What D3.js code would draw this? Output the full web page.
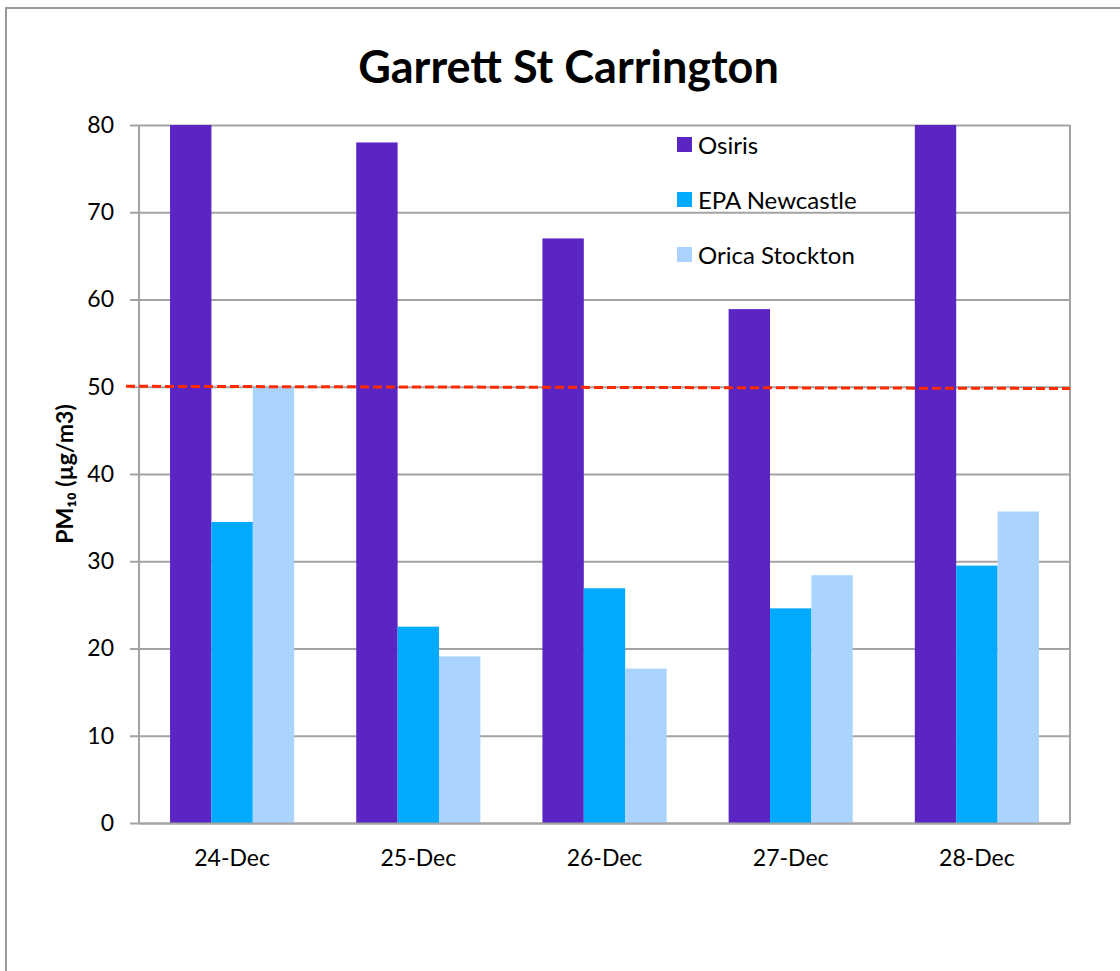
<!DOCTYPE html>
<html>
<head>
<meta charset="utf-8">
<script src="https://cdn.jsdelivr.net/npm/d3@7"></script>
<style>
  body { margin: 0; background: #fff; }
  svg text { font-family: Lato, "Open Sans", sans-serif; }
</style>
</head>
<body>
<div class="chart"></div>
<script>
const days = ["24-Dec", "25-Dec", "26-Dec", "27-Dec", "28-Dec"];
const seriesNames = ["Osiris", "EPA Newcastle", "Orica Stockton"];
const osiris = [86, 78.0, 67.0, 58.9, 86];   // 24 and 28 Dec run off the top of the chart
const epaNewcastle = [34.5, 22.5, 26.9, 24.6, 29.5];
const oricaStockton = [49.9, 19.1, 17.7, 28.4, 35.7];
const yTicks = [0, 10, 20, 30, 40, 50, 60, 70, 80];
const limitEnds = [50.05, 49.8]; // the dashed 50 µg/m3 line, slightly tilted as drawn

const colors = ["#5a25c3", "#00aaff", "#aad4fd"];

const width = 1120, height = 971;
const margin = { top: 125, right: 50, bottom: 148, left: 139 };

const svg = d3.select(".chart")
  .append("svg")
  .attr("width", width)
  .attr("height", height);

// outer chart frame (runs off the right/bottom edges)
svg.append("rect")
  .attr("x", 6).attr("y", 8)
  .attr("width", 1140).attr("height", 1000)
  .attr("fill", "none")
  .attr("stroke", "#9a9a9a")
  .attr("stroke-width", 2);

const x0 = d3.scaleBand()
  .domain(days)
  .range([margin.left, width - margin.right])
  .paddingInner(0.3333)
  .paddingOuter(0.1667);

const x1 = d3.scaleBand()
  .domain(seriesNames)
  .range([0, x0.bandwidth()]);

const y = d3.scaleLinear()
  .domain([0, 80])
  .range([height - margin.bottom, margin.top]);

// gridlines
svg.append("g")
  .attr("transform", `translate(${margin.left},0)`)
  .call(d3.axisLeft(y).tickValues(yTicks).tickSize(-(width - margin.left - margin.right)).tickFormat(""))
  .call(g => g.select(".domain").remove())
  .call(g => g.selectAll("line").attr("stroke", "#a3a3a3").attr("stroke-width", 2));

// tick marks + labels
svg.append("g")
  .attr("transform", `translate(${margin.left},0)`)
  .call(d3.axisLeft(y).tickValues(yTicks).tickSize(9).tickPadding(16))
  .call(g => g.select(".domain").remove())
  .call(g => g.selectAll("line").attr("stroke", "#a3a3a3").attr("stroke-width", 2))
  .call(g => g.selectAll("text").attr("font-size", 23).attr("fill", "#000")
    .attr("font-family", "Lato, 'Open Sans', sans-serif"));

svg.append("clipPath").attr("id", "plot")
  .append("rect")
  .attr("x", margin.left).attr("y", margin.top)
  .attr("width", width - margin.left - margin.right)
  .attr("height", height - margin.top - margin.bottom);

const rows = days.map((d, i) => ({
  day: d,
  values: [osiris[i], epaNewcastle[i], oricaStockton[i]]
}));

svg.append("g")
  .attr("clip-path", "url(#plot)")
  .selectAll("g")
  .data(rows)
  .join("g")
  .attr("transform", d => `translate(${x0(d.day)},0)`)
  .selectAll("rect")
  .data(d => d.values.map((v, j) => ({ name: seriesNames[j], value: v, j })))
  .join("rect")
  .attr("x", d => x1(d.name))
  .attr("width", x1.bandwidth())
  .attr("y", d => y(d.value))
  .attr("height", d => y(0) - y(d.value))
  .attr("fill", d => colors[d.j]);

// plot border: left axis, right edge
svg.append("line")
  .attr("x1", margin.left).attr("x2", margin.left)
  .attr("y1", margin.top).attr("y2", height - margin.bottom)
  .attr("stroke", "#a3a3a3").attr("stroke-width", 2);
svg.append("line")
  .attr("x1", width - margin.right).attr("x2", width - margin.right)
  .attr("y1", margin.top).attr("y2", height - margin.bottom)
  .attr("stroke", "#a3a3a3").attr("stroke-width", 2);

// x axis
svg.append("g")
  .attr("transform", `translate(0,${height - margin.bottom})`)
  .call(d3.axisBottom(x0).tickSize(0).tickPadding(27))
  .call(g => g.select(".domain").attr("stroke", "#a3a3a3").attr("stroke-width", 2))
  .call(g => g.selectAll("text").attr("font-size", 23).attr("fill", "#000")
    .attr("font-family", "Lato, 'Open Sans', sans-serif"));

// 50 µg/m3 limit line
svg.append("path")
  .datum(limitEnds)
  .attr("fill", "none")
  .attr("stroke", "#ff2a00")
  .attr("stroke-width", 3)
  .attr("stroke-dasharray", "9 4")
  .attr("d", d3.line()
    .x((d, i) => i === 0 ? margin.left - 13 : width - margin.right)
    .y(d => y(d)));

// title
svg.append("text")
  .attr("x", (margin.left + width - margin.right) / 2 - 36)
  .attr("y", 83)
  .attr("text-anchor", "middle")
  .attr("font-size", 45)
  .attr("font-weight", "bold")
  .text("Garrett St Carrington");

// y axis title
svg.append("text")
  .attr("transform", `translate(73,${(margin.top + height - margin.bottom) / 2}) rotate(-90)`)
  .attr("text-anchor", "middle")
  .attr("font-size", 23)
  .attr("font-weight", "bold")
  .text("PM₁₀ (µg/m3)");

// legend
const legend = svg.append("g")
  .selectAll("g")
  .data(seriesNames)
  .join("g")
  .attr("transform", (d, i) => `translate(677,${137 + i * 55})`);

legend.append("rect")
  .attr("width", 15).attr("height", 15)
  .attr("fill", (d, i) => colors[i]);

legend.append("text")
  .attr("x", 21).attr("y", 9)
  .attr("dy", "0.35em")
  .attr("font-size", 24)
  .text(d => d);
</script>
</body>
</html>
